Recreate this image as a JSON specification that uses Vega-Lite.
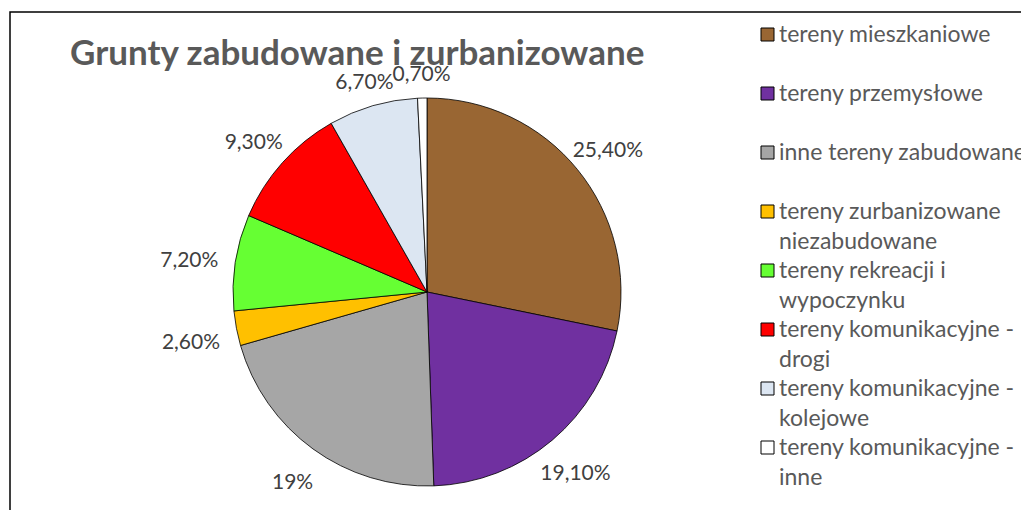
{
  "$schema": "https://vega.github.io/schema/vega-lite/v6.json",
  "autosize": {"type": "none"},
  "width": 1016,
  "height": 503,
  "padding": {"left": 10, "top": 12, "right": -5, "bottom": -5},
  "background": "white",
  "title": {
    "text": "Grunty zabudowane i zurbanizowane",
    "anchor": "start",
    "frame": "group",
    "offset": 0,
    "dx": 60,
    "dy": 60,
    "font": "Lato",
    "fontSize": 35,
    "fontWeight": "bold",
    "color": "#595959"
  },
  "config": {
    "view": {"stroke": "#000000", "strokeWidth": 1.5},
    "style": {"guide-label": {"lineHeight": 30}}
  },
  "data": {
    "values": [
      {"i": 1, "kategoria": "tereny mieszkaniowe", "udzial": 25.4, "etykieta": "25,40%"},
      {"i": 2, "kategoria": "tereny przemysłowe", "udzial": 19.1, "etykieta": "19,10%"},
      {"i": 3, "kategoria": "inne tereny zabudowane", "udzial": 19.0, "etykieta": "19%"},
      {"i": 4, "kategoria": "tereny zurbanizowane niezabudowane", "udzial": 2.6, "etykieta": "2,60%"},
      {"i": 5, "kategoria": "tereny rekreacji i wypoczynku", "udzial": 7.2, "etykieta": "7,20%"},
      {"i": 6, "kategoria": "tereny komunikacyjne - drogi", "udzial": 9.3, "etykieta": "9,30%"},
      {"i": 7, "kategoria": "tereny komunikacyjne - kolejowe", "udzial": 6.7, "etykieta": "6,70%"},
      {"i": 8, "kategoria": "tereny komunikacyjne - inne", "udzial": 0.7, "etykieta": "0,70%"}
    ]
  },
  "encoding": {
    "theta": {"field": "udzial", "type": "quantitative", "stack": true},
    "order": {"field": "i", "type": "quantitative"}
  },
  "layer": [
    {
      "mark": {"type": "arc", "outerRadius": 194, "stroke": "#000000", "strokeWidth": 0.8},
      "encoding": {
        "x": {"value": 417},
        "y": {"value": 280},
        "color": {
          "field": "kategoria",
          "type": "nominal",
          "sort": null,
          "scale": {
            "domain": ["tereny mieszkaniowe", "tereny przemysłowe", "inne tereny zabudowane", "tereny zurbanizowane niezabudowane", "tereny rekreacji i wypoczynku", "tereny komunikacyjne - drogi", "tereny komunikacyjne - kolejowe", "tereny komunikacyjne - inne"],
            "range": ["#996633", "#7030A0", "#A6A6A6", "#FFC000", "#66FF33", "#FF0000", "#DCE6F2", "#FFFFFF"]
          },
          "legend": {
            "orient": "none",
            "legendX": 746,
            "legendY": 11,
            "title": null,
            "symbolType": "square",
            "symbolSize": 169,
            "symbolStrokeColor": "#000000",
            "symbolStrokeWidth": 1,
            "labelFont": "Lato",
            "labelFontSize": 23,
            "labelColor": "#595959",
            "labelLimit": 500,
            "labelOffset": 0,
            "rowPadding": 5,
            "labelExpr": "indexof(datum.label, ' - ') > 0 ? [substring(datum.label, 0, indexof(datum.label, ' - ') + 2), substring(datum.label, indexof(datum.label, ' - ') + 3)] : datum.label == 'tereny zurbanizowane niezabudowane' ? ['tereny zurbanizowane', 'niezabudowane'] : datum.label == 'tereny rekreacji i wypoczynku' ? ['tereny rekreacji i', 'wypoczynku'] : [datum.label, ' ']"
          }
        }
      }
    },
    {
      "mark": {
        "type": "text",
        "font": "Lato",
        "fontSize": 21,
        "fill": "#404040",
        "radius": {"expr": "241*223/sqrt(pow(223*sin(scale('theta', (datum.udzial_start + datum.udzial_end)/2)), 2) + pow(241*cos(scale('theta', (datum.udzial_start + datum.udzial_end)/2)), 2))"}
      },
      "encoding": {
        "x": {"value": 417},
        "y": {"value": 286},
        "text": {"field": "etykieta", "type": "nominal"}
      }
    }
  ]
}
